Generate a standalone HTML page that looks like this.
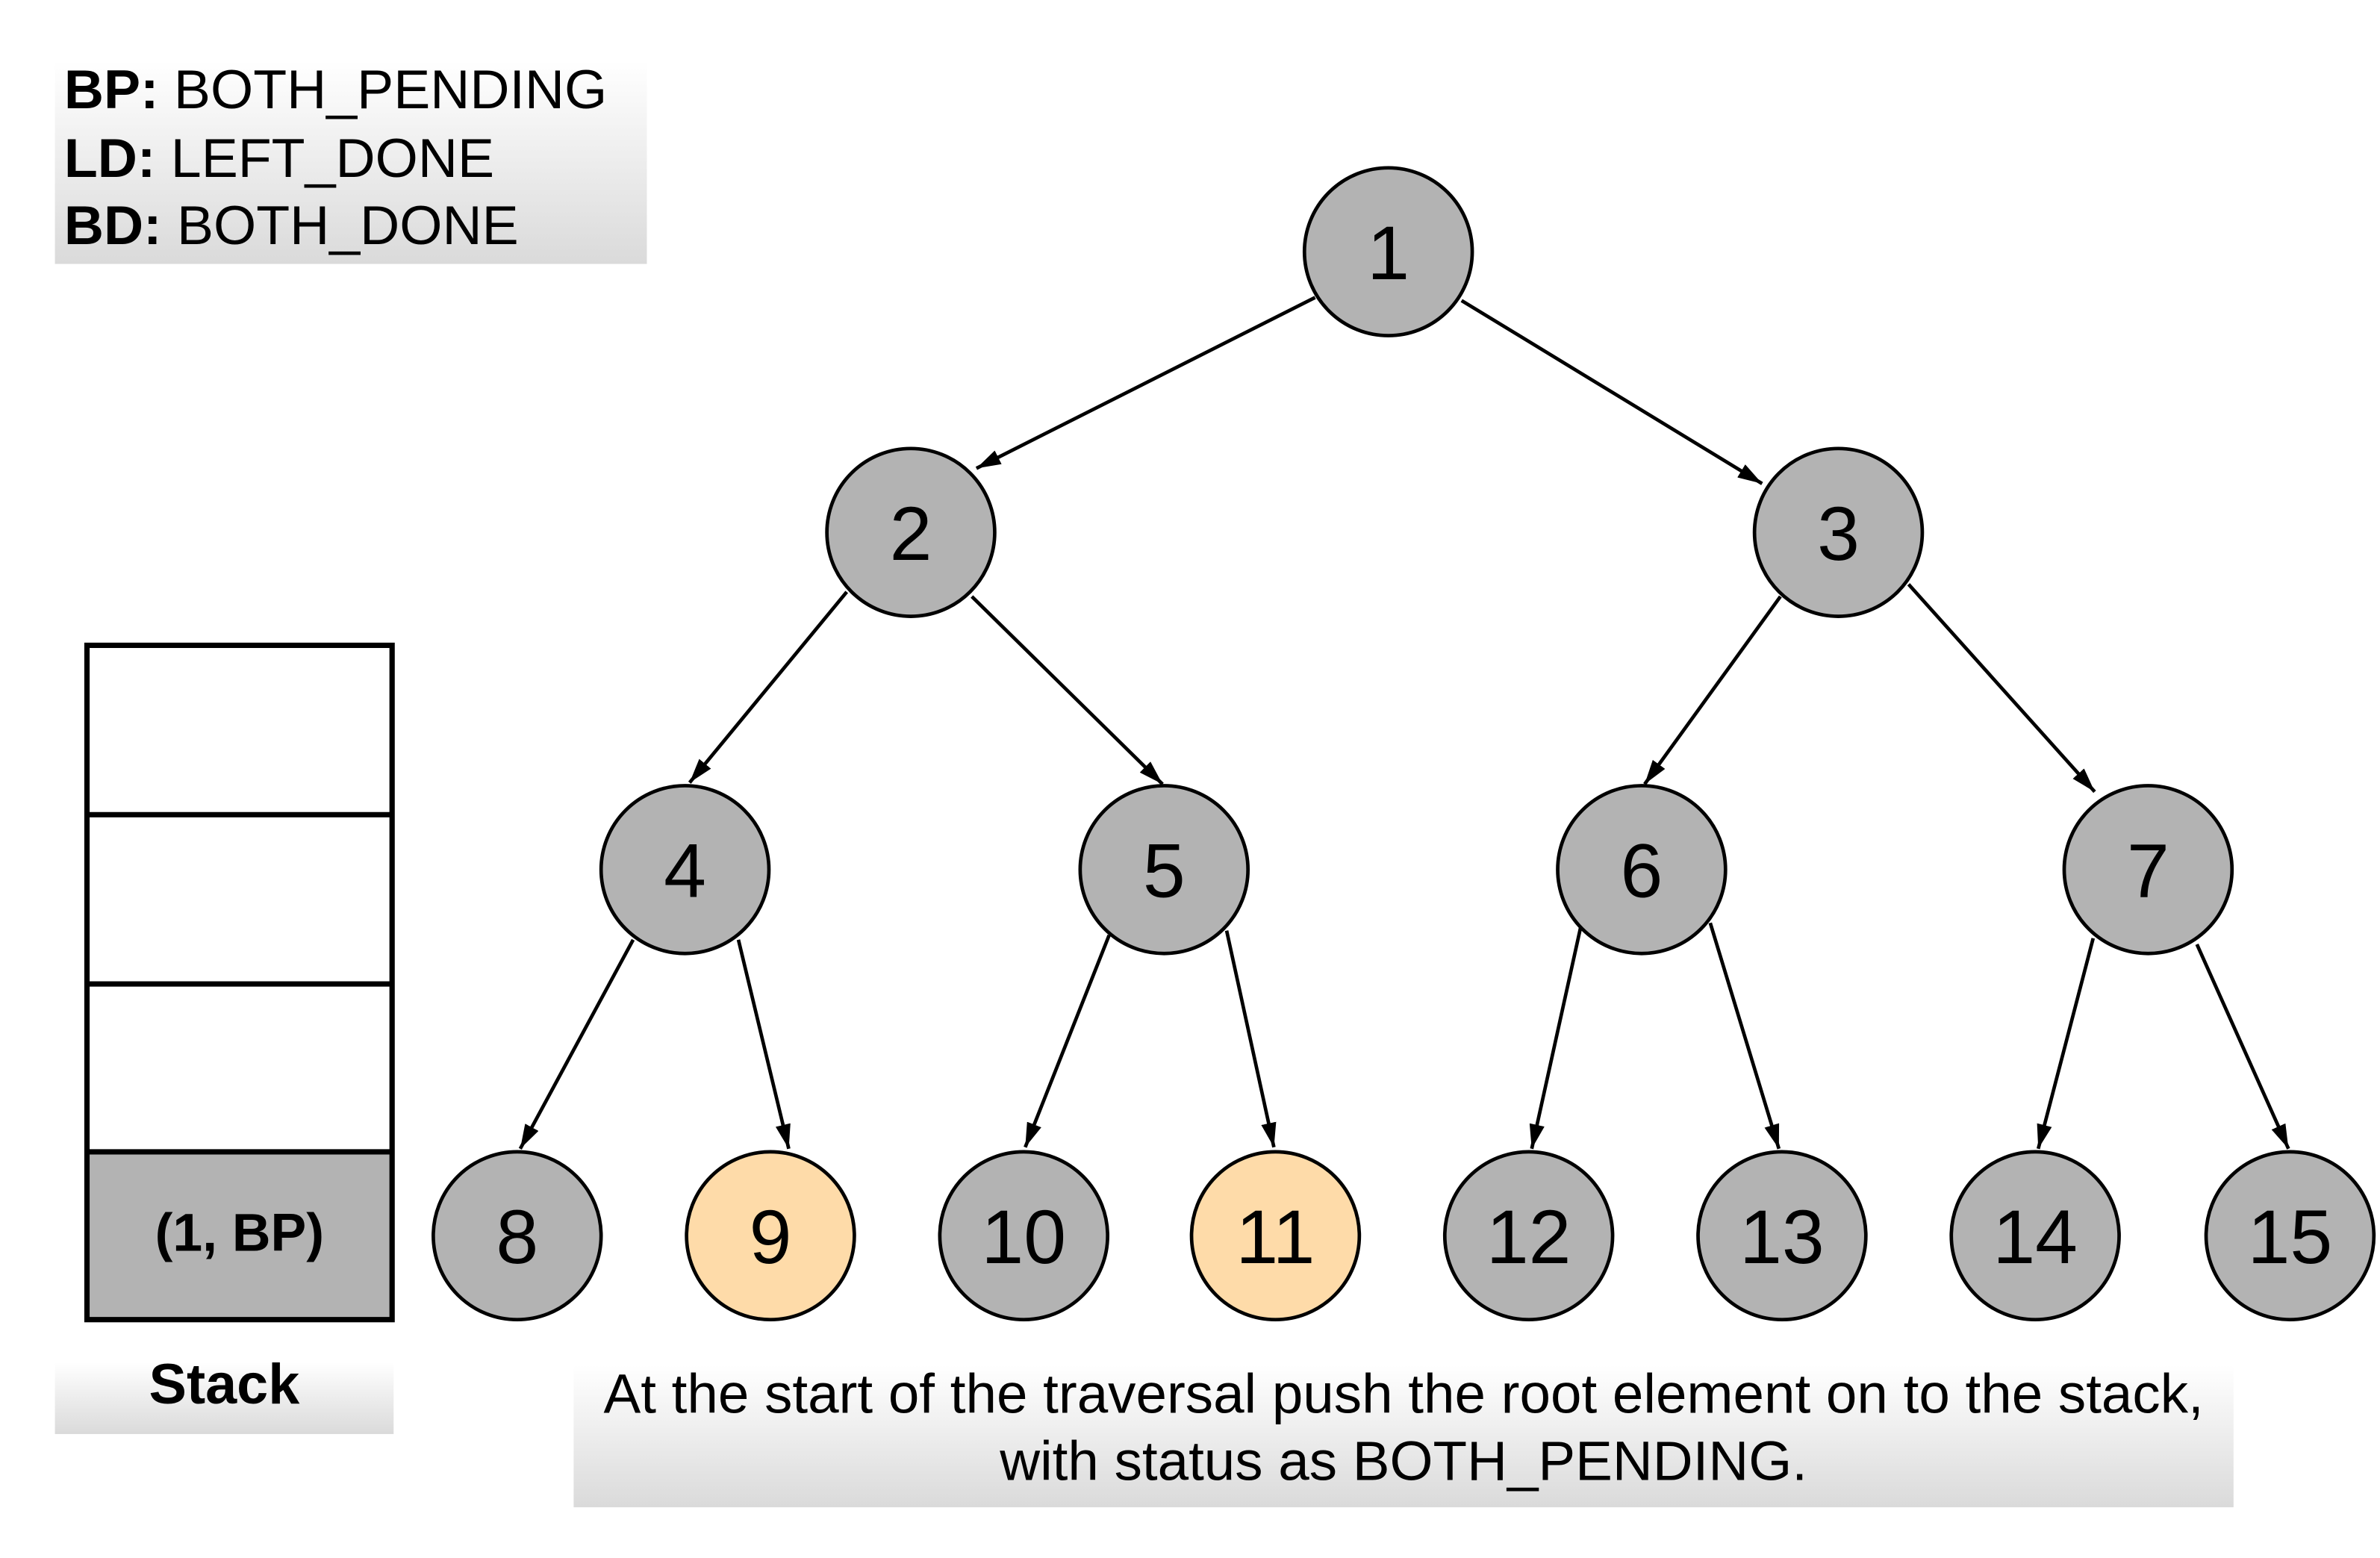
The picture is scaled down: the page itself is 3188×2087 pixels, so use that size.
<!DOCTYPE html>
<html><head><style>html,body{margin:0;padding:0;background:#fff}svg{display:block}</style></head>
<body>
<svg width="3188" height="2087" viewBox="0 0 1560 1021.25" preserveAspectRatio="none" xmlns="http://www.w3.org/2000/svg" font-family="Liberation Sans, sans-serif">
<defs>
<linearGradient id="g" x1="0" y1="0" x2="0" y2="1"><stop offset="0" stop-color="#fff"/><stop offset="1" stop-color="#dadada"/></linearGradient>
<marker id="b" viewBox="0 0 16 10" refX="16" refY="5" markerWidth="16" markerHeight="10" orient="auto" markerUnits="userSpaceOnUse"><path d="M0,0 L16,5 L0,10 z" fill="#000"/></marker>
</defs>
<rect x="36" y="40" width="388" height="133" fill="url(#g)"/>
<g font-size="36" fill="#000">
<text x="42" y="71"><tspan font-weight="bold">BP:</tspan> BOTH_PENDING</text>
<text x="42" y="116"><tspan font-weight="bold">LD:</tspan> LEFT_DONE</text>
<text x="42" y="160"><tspan font-weight="bold">BD:</tspan> BOTH_DONE</text>
</g>
<g stroke="#000" stroke-width="2.3" marker-end="url(#b)">
<line x1="862" y1="195" x2="640" y2="307"/>
<line x1="958" y1="197" x2="1155" y2="317"/>
<line x1="555" y1="388" x2="452" y2="513"/>
<line x1="637" y1="391" x2="762" y2="514"/>
<line x1="1167" y1="391" x2="1078" y2="514"/>
<line x1="1251" y1="383" x2="1373" y2="519"/>
<line x1="415" y1="616" x2="341" y2="753"/>
<line x1="484" y1="616" x2="517" y2="753"/>
<line x1="727" y1="613" x2="672" y2="752"/>
<line x1="804" y1="610" x2="835" y2="752"/>
<line x1="1036" y1="608" x2="1004" y2="753"/>
<line x1="1121" y1="605" x2="1166" y2="753"/>
<line x1="1372" y1="615" x2="1336" y2="753"/>
<line x1="1440" y1="619" x2="1500" y2="753"/>
</g>
<g stroke="#000" stroke-width="2.3" fill="#b3b3b3">
<circle cx="910" cy="165" r="55"/>
<circle cx="597" cy="349" r="55"/>
<circle cx="1205" cy="349" r="55"/>
<circle cx="449" cy="570" r="55"/>
<circle cx="763" cy="570" r="55"/>
<circle cx="1076" cy="570" r="55"/>
<circle cx="1408" cy="570" r="55"/>
<circle cx="339" cy="810" r="55"/>
<circle cx="505" cy="810" r="55" fill="#fedba9"/>
<circle cx="671" cy="810" r="55"/>
<circle cx="836" cy="810" r="55" fill="#fedba9"/>
<circle cx="1002" cy="810" r="55"/>
<circle cx="1168" cy="810" r="55"/>
<circle cx="1334" cy="810" r="55"/>
<circle cx="1501" cy="810" r="55"/>
</g>
<g font-size="50" text-anchor="middle" fill="#000">
<text x="910" y="183">1</text>
<text x="597" y="367">2</text>
<text x="1205" y="367">3</text>
<text x="449" y="588">4</text>
<text x="763" y="588">5</text>
<text x="1076" y="588">6</text>
<text x="1408" y="588">7</text>
<text x="339" y="828">8</text>
<text x="505" y="828">9</text>
<text x="671" y="828">10</text>
<text x="836" y="828">11</text>
<text x="1002" y="828">12</text>
<text x="1168" y="828">13</text>
<text x="1334" y="828">14</text>
<text x="1501" y="828">15</text>
</g>
<rect x="57" y="755" width="200" height="110" fill="#b3b3b3"/>
<g stroke="#000" stroke-width="3.5" fill="none">
<rect x="57" y="423" width="200" height="442"/>
<line x1="57" y1="534" x2="257" y2="534"/>
<line x1="57" y1="645" x2="257" y2="645"/>
<line x1="57" y1="755" x2="257" y2="755"/>
</g>
<text x="157" y="820" font-size="35" font-weight="bold" text-anchor="middle">(1, BP)</text>
<rect x="36" y="893" width="222" height="47" fill="url(#g)"/>
<text x="147" y="920" font-size="37" font-weight="bold" text-anchor="middle">Stack</text>
<rect x="376" y="895" width="1088" height="93" fill="url(#g)"/>
<g font-size="36.5" text-anchor="middle">
<text x="920" y="926">At the start of the traversal push the root element on to the stack,</text>
<text x="920" y="970">with status as BOTH_PENDING.</text>
</g>
</svg>
</body></html>
